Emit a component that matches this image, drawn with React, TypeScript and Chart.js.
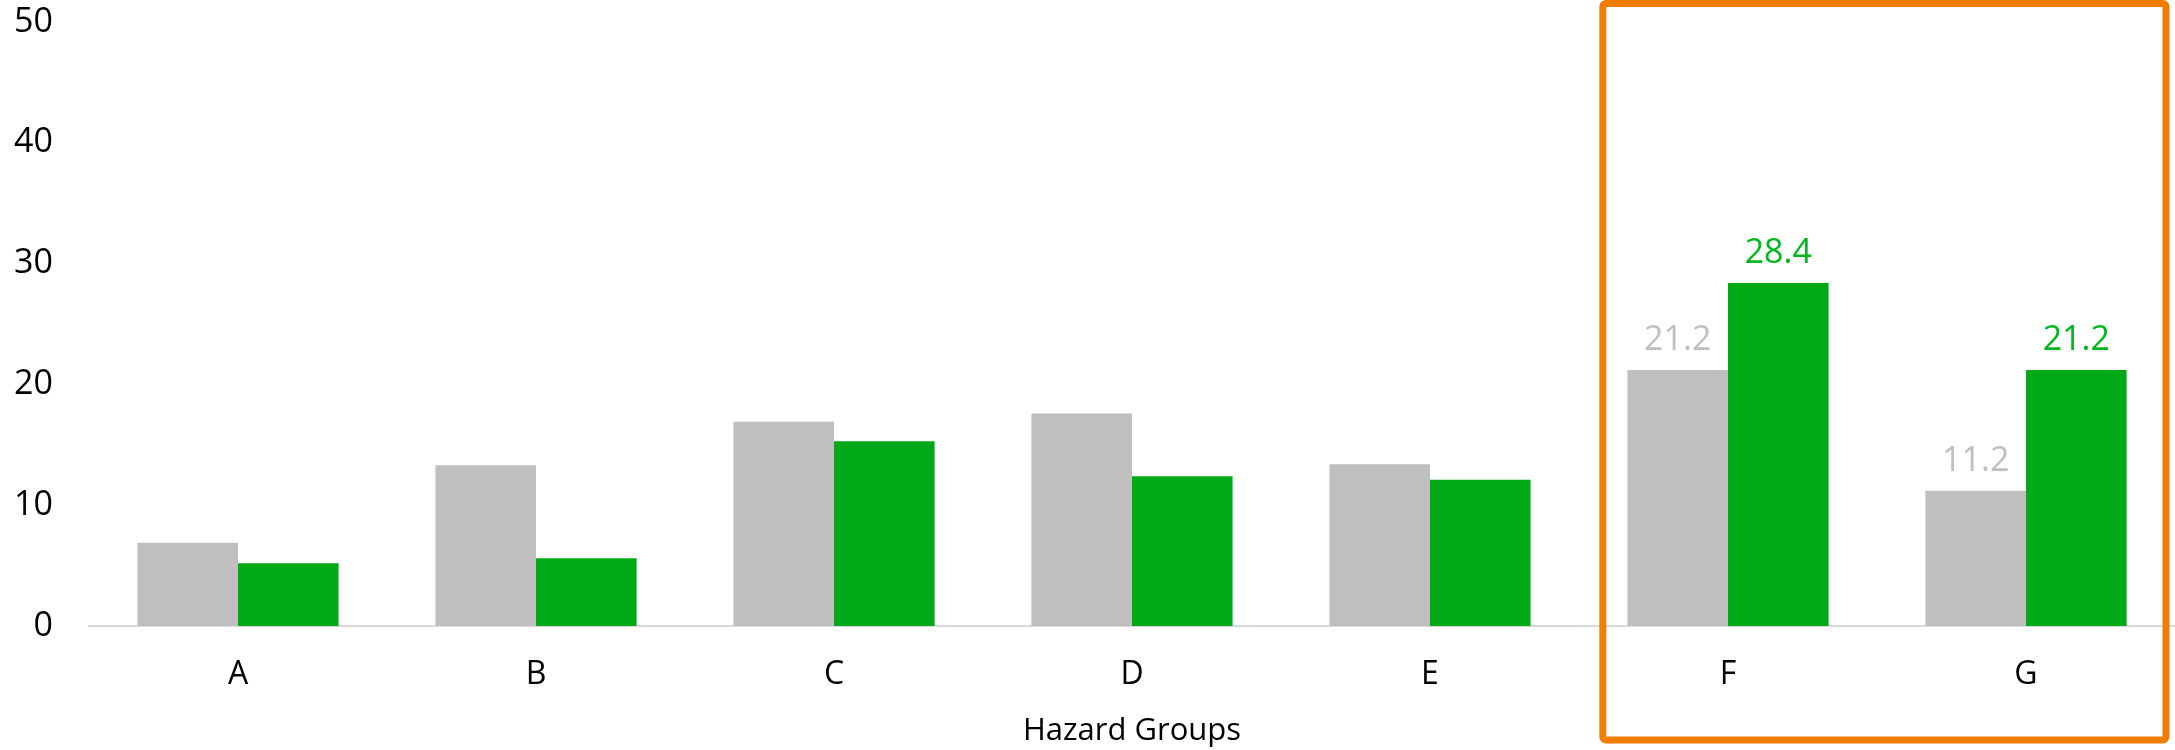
import React, { useEffect, useRef } from 'react';
import { Chart, registerables } from 'chart.js';

Chart.register(...registerables);

const categories = ['A', 'B', 'C', 'D', 'E', 'F', 'G'];
const grayValues = [6.9, 13.3, 16.9, 17.6, 13.4, 21.2, 11.2];
const greenValues = [5.2, 5.6, 15.3, 12.4, 12.1, 28.4, 21.2];
const yTickValues = [0, 10, 20, 30, 40, 50];
const labeledCategories = ['F', 'G'];
const highlightedCategories = ['F', 'G'];
const xAxisTitle = 'Hazard Groups';

const GRAY = '#BFBFBF';
const GREEN = '#00AA17';
const GREEN_LABEL = '#00B81E';
const ORANGE = '#F07D00';
const FONT = '"Open Sans"';

const overlayPlugin = {
  id: 'overlay',
  afterDatasetsDraw(chart: any) {
    const ctx = chart.ctx;
    const colors = [GRAY, GREEN_LABEL];
    ctx.save();
    ctx.font = `34px ${FONT}`;
    ctx.textAlign = 'center';
    ctx.textBaseline = 'alphabetic';
    chart.data.datasets.forEach((ds: any, di: number) => {
      const meta = chart.getDatasetMeta(di);
      meta.data.forEach((bar: any, i: number) => {
        if (!labeledCategories.includes(categories[i])) return;
        ctx.fillStyle = colors[di];
        ctx.fillText(ds.data[i].toFixed(1), bar.x, bar.y - 20);
      });
    });
    ctx.restore();
  },
  afterDraw(chart: any) {
    const ctx = chart.ctx;
    const xs = chart.scales.x;
    const area = chart.chartArea;
    const catW = (area.right - area.left) / categories.length;
    const first = categories.indexOf(highlightedCategories[0]);
    const left = xs.getPixelForValue(first) - catW * 0.42;
    const right = chart.width - 9;
    const top = 3.5;
    const bottom = chart.height - 10;
    ctx.save();
    ctx.strokeStyle = ORANGE;
    ctx.lineWidth = 7;
    ctx.lineJoin = 'round';
    ctx.beginPath();
    ctx.roundRect(left, top, right - left, bottom - top, 3);
    ctx.stroke();
    ctx.restore();
  },
};

export default function App() {
  const ref = useRef<HTMLCanvasElement>(null);
  useEffect(() => {
    if (!ref.current) return;
    const chart = new Chart(ref.current, {
      type: 'bar',
      data: {
        labels: categories,
        datasets: [
          { label: 'Gray', data: grayValues, backgroundColor: GRAY, categoryPercentage: 0.675, barPercentage: 1.0 },
          { label: 'Green', data: greenValues, backgroundColor: GREEN, categoryPercentage: 0.675, barPercentage: 1.0 },
        ],
      },
      options: {
        animation: false,
        responsive: false,
        maintainAspectRatio: false,
        devicePixelRatio: 1,
        layout: { padding: { top: 22, left: 0, right: 0, bottom: 0 } },
        plugins: {
          legend: { display: false },
          tooltip: { enabled: false },
          title: { display: false },
        },
        scales: {
          x: {
            grid: { display: false, drawTicks: false },
            border: { display: true, color: '#D9D9D9', width: 2 },
            ticks: { color: '#000', font: { family: FONT, size: 32 }, padding: 30 },
            title: {
              display: true,
              text: xAxisTitle,
              color: '#000',
              font: { family: FONT, size: 31 },
              padding: { top: 0, bottom: 0 },
            },
            afterFit: (s: any) => { s.height = 124; s.paddingLeft = 0; s.paddingRight = 0; },
          },
          y: {
            min: 0,
            max: 50,
            afterBuildTicks: (s: any) => { s.ticks = yTickValues.map((v) => ({ value: v })); },
            grid: { display: false, drawTicks: false },
            border: { display: false },
            ticks: { color: '#000', font: { family: FONT, size: 34 }, padding: 36 },
            afterFit: (s: any) => { s.width = 89; s.paddingTop = 0; s.paddingBottom = 0; },
          },
        },
      },
      plugins: [overlayPlugin],
    });
    return () => chart.destroy();
  }, []);
  return (
    <div style={{ position: 'fixed', left: 0, top: 0, width: 2175, height: 750, background: '#fff' }}>
      <canvas ref={ref} width={2175} height={750} style={{ width: 2175, height: 750 }} />
    </div>
  );
}
